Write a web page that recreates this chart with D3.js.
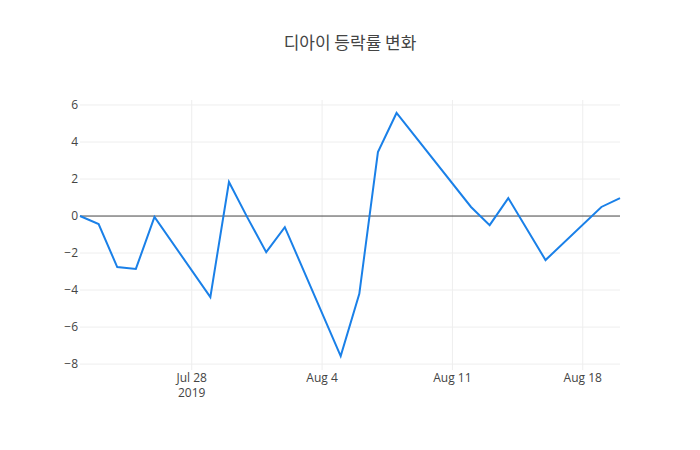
<!DOCTYPE html>
<html><head><meta charset="utf-8">
<script src="https://cdn.jsdelivr.net/npm/d3@7"></script>
<style>body{margin:0;background:#fff}</style>
</head><body>
<svg id="chart" width="700" height="450"></svg>
<script>
// data
var dates = ["2019-07-22","2019-07-23","2019-07-24","2019-07-25","2019-07-26","2019-07-29","2019-07-30","2019-07-31",
  "2019-08-01","2019-08-02","2019-08-05","2019-08-06","2019-08-07","2019-08-08","2019-08-12","2019-08-13",
  "2019-08-14","2019-08-16","2019-08-19","2019-08-20"];
var changes = [0, -0.43, -2.76, -2.86, -0.05, -4.38, 1.84, -0.1, -1.95, -0.6, -7.57, -4.2, 3.46, 5.57, 0.49, -0.49, 0.97, -2.38, 0.49, 0.97];
var yTicks = [-8, -6, -4, -2, 0, 2, 4, 6];
var xTicks = ["2019-07-28","2019-08-04","2019-08-11","2019-08-18"];

var parse = d3.timeParse("%Y-%m-%d");
var svg = d3.select("#chart");
var font = "'Open Sans', sans-serif";
var plotL = 80, plotR = 620, plotT = 100, plotB = 370;

var x = d3.scaleTime().domain([parse(dates[0]), parse(dates[dates.length-1])]).range([plotL, plotR]);
var y = d3.scaleLinear().domain([-8.32, 6.27]).range([plotB, plotT]);

// grid
svg.append("g").selectAll("line").data(xTicks).enter().append("line")
  .attr("x1", d => x(parse(d))).attr("x2", d => x(parse(d)))
  .attr("y1", plotT).attr("y2", plotB).attr("stroke", "#eee");
svg.append("g").selectAll("line").data(yTicks.filter(d => d !== 0)).enter().append("line")
  .attr("x1", plotL).attr("x2", plotR)
  .attr("y1", d => y(d)).attr("y2", d => y(d)).attr("stroke", "#eee");
svg.append("line").attr("x1", plotL).attr("x2", plotR).attr("y1", y(0)).attr("y2", y(0))
  .attr("stroke", "#444").attr("stroke-width", 1);

// tick labels
svg.append("g").selectAll("text").data(yTicks).enter().append("text")
  .attr("x", plotL - 2).attr("y", d => y(d)).attr("dy", "0.35em")
  .attr("text-anchor", "end").style("font-family", font).style("font-size", "12px").attr("fill", "#444")
  .text(d => d < 0 ? "\u2212" + Math.abs(d) : d);
var fmt = d3.timeFormat("%b %-d");
svg.append("g").selectAll("text").data(xTicks).enter().append("text")
  .attr("x", d => x(parse(d))).attr("y", plotB + 3).attr("dy", "0.71em")
  .attr("text-anchor", "middle").style("font-family", font).style("font-size", "12px").attr("fill", "#444")
  .text(d => fmt(parse(d)));
svg.append("text").attr("x", x(parse(xTicks[0]))).attr("y", plotB + 18).attr("dy", "0.71em")
  .attr("text-anchor", "middle").style("font-family", font).style("font-size", "12px").attr("fill", "#444")
  .text("2019");

// line
var line = d3.line().x((d, i) => x(parse(dates[i]))).y(d => y(d));
svg.append("path").datum(changes).attr("d", line)
  .attr("fill", "none").attr("stroke", "#1a80e8").attr("stroke-width", 2);

// title
svg.append("text").attr("x", 350).attr("y", 49).attr("text-anchor", "middle")
  .style("font-family", "'Noto Sans CJK KR', sans-serif").style("font-size", "17px").attr("fill", "#444")
  .text("디아이 등락률 변화");
</script>
</body></html>
